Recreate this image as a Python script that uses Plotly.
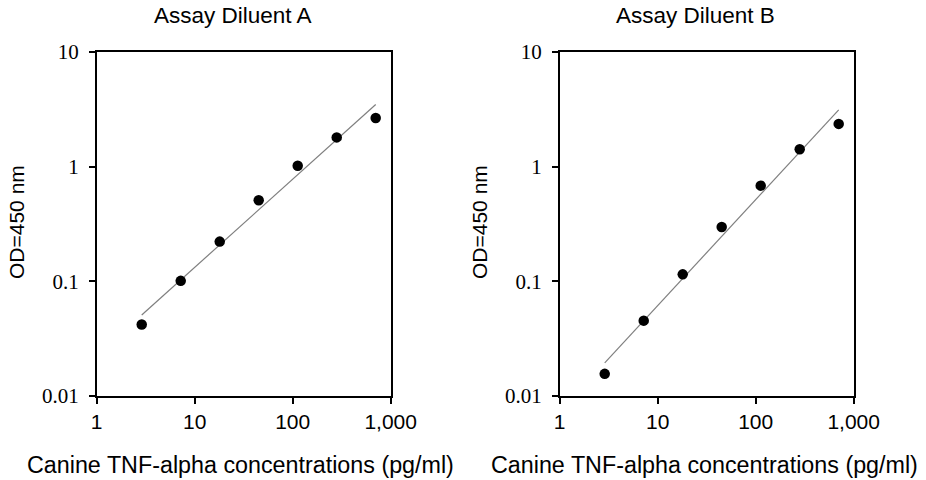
import numpy as np
import plotly.graph_objects as go

# Data
concentration = [2.88, 7.2, 18.0, 45.0, 112.5, 281.25, 703.125]
od_diluent_a = [0.042, 0.101, 0.222, 0.509, 1.02, 1.80, 2.66]
od_diluent_b = [0.0156, 0.0454, 0.115, 0.298, 0.683, 1.42, 2.36]

panel_titles = ["Assay Diluent A", "Assay Diluent B"]
x_title = "Canine TNF-alpha concentrations (pg/ml)"
y_title = "OD=450 nm"
x_tickvals = [1, 10, 100, 1000]
x_ticktext = ["1", "10", "100", "1,000"]
y_tickvals = [0.01, 0.1, 1, 10]
y_ticktext = ["0.01", "0.1", "1", "10"]

W, H = 926, 480
# panel pixel boxes
panels = [(96.7, 390.7), (559.7, 853.7)]
ytop, ybot = 52, 396


def px(x):
    return x / W


def py(y):
    return 1 - y / H


fig = go.Figure()

series = [od_diluent_a, od_diluent_b]
for i, ys in enumerate(series):
    xa = "x" if i == 0 else "x2"
    ya = "y" if i == 0 else "y2"
    lx = np.log10(concentration)
    ly = np.log10(ys)
    slope, intercept = np.polyfit(lx, ly, 1)
    fx = np.array([min(concentration), max(concentration)])
    fy = 10 ** (intercept + slope * np.log10(fx))
    fig.add_trace(go.Scatter(x=fx, y=fy, mode="lines",
                             line=dict(color="#7f7f7f", width=1.2),
                             xaxis=xa, yaxis=ya, showlegend=False, hoverinfo="skip"))
    fig.add_trace(go.Scatter(x=concentration, y=ys, mode="markers",
                             marker=dict(color="black", size=10.5),
                             xaxis=xa, yaxis=ya, showlegend=False))

axis_common = dict(showline=True, linecolor="black", linewidth=1.5, mirror=True,
                   showgrid=False, zeroline=False, ticks="outside", tickcolor="black",
                   tickwidth=1.5, automargin=False)

xdoms = [[px(p[0]), px(p[1])] for p in panels]
ydom = [py(ybot), py(ytop)]

for i in range(2):
    sfx = "" if i == 0 else "2"
    fig.update_layout(**{
        "xaxis" + sfx: dict(axis_common, type="log", range=[0, 3], domain=xdoms[i],
                            anchor="y" + sfx, tickvals=x_tickvals, ticktext=x_ticktext,
                            ticklen=6, ticklabelstandoff=0,
                            tickfont=dict(family="Liberation Sans, Arial", size=21, color="black")),
        "yaxis" + sfx: dict(axis_common, type="log", range=[-2, 1], domain=ydom,
                            anchor="x" + sfx, tickvals=y_tickvals, ticktext=y_ticktext,
                            ticklen=6, ticklabelstandoff=6,
                            tickfont=dict(family="Liberation Serif, Times New Roman", size=21, color="black")),
    })

annotations = []
title_cx = [232.5, 695.5]
xlabel_cx = [241, 704]
ylabel_cx = [16, 479]
for i in range(2):
    annotations.append(dict(text=panel_titles[i], x=px(title_cx[i]), y=py(15),
                            xref="paper", yref="paper", showarrow=False,
                            xanchor="center", yanchor="middle",
                            font=dict(family="Liberation Sans, Arial", size=22.5, color="black")))
    annotations.append(dict(text=x_title, x=px(xlabel_cx[i]), y=py(465),
                            xref="paper", yref="paper", showarrow=False,
                            xanchor="center", yanchor="middle",
                            font=dict(family="Liberation Sans, Arial", size=23.3, color="black")))
    annotations.append(dict(text=y_title, x=px(ylabel_cx[i]), y=py(222),
                            xref="paper", yref="paper", showarrow=False, textangle=-90,
                            xanchor="center", yanchor="middle",
                            font=dict(family="Liberation Sans, Arial", size=21, color="black")))

fig.update_layout(width=W, height=H, margin=dict(l=0, r=0, t=0, b=0, autoexpand=False),
                  paper_bgcolor="white", plot_bgcolor="white",
                  annotations=annotations, showlegend=False)

# remove the page's default body margin so the 926x480 figure fills the window
fig.write_html("out.html", config={"displayModeBar": False},
               post_script="document.body.style.margin='0';document.body.style.overflow='hidden';")
